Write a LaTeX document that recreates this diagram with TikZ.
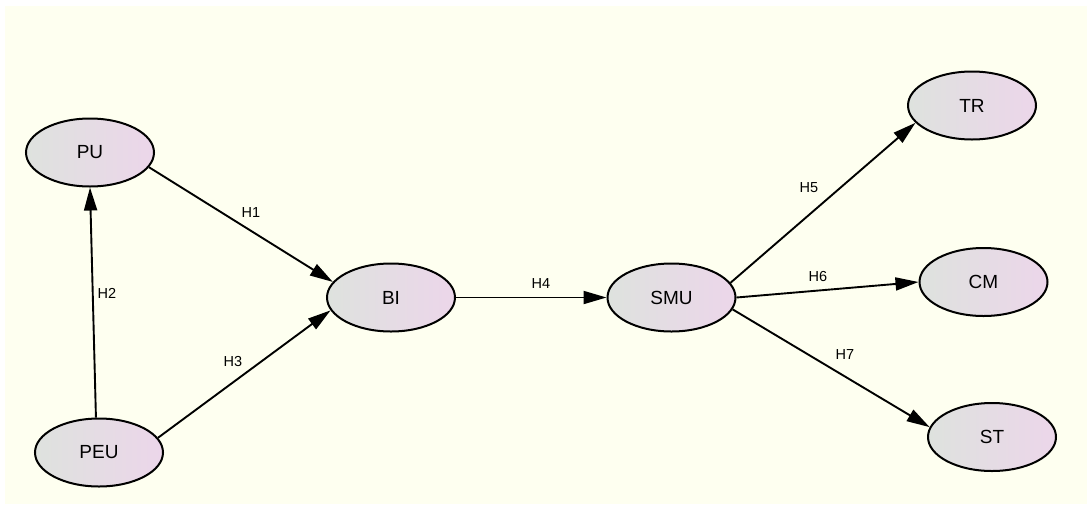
\documentclass[tikz,border=0pt]{standalone}
\usepackage{fontspec}
\setmainfont{Liberation Sans}
\usetikzlibrary{shapes.geometric,arrows.meta}
\definecolor{bgyellow}{RGB}{254,255,240}
\definecolor{nodeleft}{RGB}{222,226,222}
\definecolor{noderight}{RGB}{236,214,234}
\tikzset{
  construct/.style={ellipse,draw=black,line width=2pt,minimum width=128pt,minimum height=68pt,inner sep=0pt,
    shading=axis,shading angle=70,left color=nodeleft,right color=noderight,font=\fontsize{19}{21}\selectfont},
  path/.style={draw=black,line width=1.9pt,-{Triangle[length=23pt,width=13pt]}},
  hlabel/.style={font=\fontsize{14.5}{16}\selectfont,inner sep=0pt}
}
\begin{document}
\begin{tikzpicture}[x=1pt,y=-1pt]
\useasboundingbox (0,0) rectangle (1087,504);
\fill[white] (0,0) rectangle (1087,504);
\fill[bgyellow] (5,6) rectangle (1087,504);
\node[construct] (PU) at (90,152.5) {PU};
\node[construct] (PEU) at (99,452.5) {PEU};
\node[construct] (BI) at (391,297.5) {BI};
\node[construct] (SMU) at (671.5,297.5) {SMU};
\node[construct] (TR) at (972,105.5) {TR};
\node[construct] (CM) at (983.5,282) {CM};
\node[construct] (ST) at (992,437) {ST};
\draw[path] (PU.-14.5) -- (BI.165.7);
\draw[path] (PEU.95) -- (PU.-90);
\draw[path] (PEU.14.3) -- (BI.-168.4);
\draw[path] (BI) -- (SMU);
\draw[path] (SMU.14.4) -- (TR.-163);
\draw[path] (SMU.0) -- (CM.180);
\draw[path] (SMU.-11) -- (ST.171);
\node[hlabel] (h1) at (251,213) {H1};
\node[hlabel] (h2) at (107,293) {H2};
\node[hlabel] (h3) at (233,362) {H3};
\node[hlabel] (h4) at (541,284) {H4};
\node[hlabel] (h5) at (809,188) {H5};
\node[hlabel] (h6) at (818,277) {H6};
\node[hlabel] (h7) at (845,355) {H7};
\end{tikzpicture}
\end{document}
